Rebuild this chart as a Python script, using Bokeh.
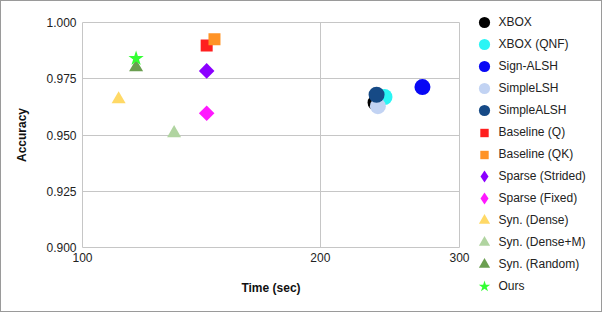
import numpy as np
from bokeh.plotting import figure
from bokeh.layouts import row
from bokeh.models import (Range1d, FixedTicker, NumeralTickFormatter,
                          PrintfTickFormatter, Legend, LegendItem)
from bokeh.embed import file_html
from bokeh.resources import INLINE

# ---- data ----
names = ["XBOX", "XBOX (QNF)", "Sign-ALSH", "SimpleLSH", "SimpleALSH",
         "Baseline (Q)", "Baseline (QK)", "Sparse (Strided)", "Sparse (Fixed)",
         "Syn. (Dense)", "Syn. (Dense+M)", "Syn. (Random)", "Ours"]
time_sec = [234.9, 241.1, 269.3, 236.5, 235.6,
            143.6, 146.9, 143.6, 143.6,
            111.1, 130.6, 116.9, 116.9]
accuracy = [0.9644, 0.9669, 0.9713, 0.9628, 0.9679,
            0.9898, 0.9926, 0.9785, 0.9597,
            0.9659, 0.9508, 0.9801, 0.9840]
colors = ["#000000", "#2af5f5", "#0808f5", "#c2d3f3", "#164a86",
          "#ff1f1f", "#ff9326", "#8b00ff", "#ff19ff",
          "#ffd966", "#b0d4a0", "#6a9e50", "#33ff33"]
kinds = ["circle"] * 5 + ["square"] * 2 + ["diamond"] * 2 + ["triangle"] * 3 + ["star"]
x_ticks = [100, 200, 300]
y_ticks = [0.900, 0.925, 0.950, 0.975, 1.000]

FONT = "Liberation Sans"
GRID = "#c6c6c6"
TXT = "#222222"

# ---------------- main plot ----------------
p = figure(width=470, height=310, x_axis_type="log",
           x_range=Range1d(100, 300), y_range=Range1d(0.9, 1.0),
           output_backend="svg", toolbar_location=None,
           min_border_left=81, min_border_right=12,
           min_border_top=21, min_border_bottom=64)
p.background_fill_color = "white"
p.border_fill_color = "white"
p.outline_line_color = GRID
p.outline_line_width = 1

p.xaxis.ticker = FixedTicker(ticks=x_ticks, minor_ticks=[])
p.yaxis.ticker = FixedTicker(ticks=y_ticks, minor_ticks=[])
p.xaxis.formatter = NumeralTickFormatter(format="0")
p.yaxis.formatter = PrintfTickFormatter(format="%.3f")
p.xgrid.ticker = FixedTicker(ticks=[200])
p.ygrid.ticker = FixedTicker(ticks=y_ticks[1:-1])
for g in (p.xgrid, p.ygrid):
    g.grid_line_color = GRID
    g.grid_line_width = 1

for ax in (p.xaxis, p.yaxis):
    ax.axis_line_color = None
    ax.major_tick_line_color = None
    ax.minor_tick_line_color = None
    ax.major_tick_out = 0
    ax.major_tick_in = 0
    ax.major_label_text_font = FONT
    ax.major_label_text_font_size = "12px"
    ax.major_label_text_color = TXT
    ax.axis_label_text_font = FONT
    ax.axis_label_text_font_size = "12px"
    ax.axis_label_text_font_style = "bold"
    ax.axis_label_text_color = "#111111"

p.xaxis.axis_label = "Time (sec)"
p.yaxis.axis_label = "Accuracy"
p.xaxis.major_label_standoff = 5
p.xaxis.axis_label_standoff = 16
p.yaxis.major_label_standoff = 6
p.yaxis.axis_label_standoff = 14

plot_style = {
    "circle": dict(marker="circle", size=16, angle=0.0),
    "square": dict(marker="square", size=12, angle=0.0),
    "diamond": dict(marker="square", size=11, angle=np.pi / 4),
    "triangle": dict(marker="triangle", size=14, angle=0.0),
    "star": dict(marker="star", size=16, angle=0.0),
}
for i in range(len(names)):
    st = plot_style[kinds[i]]
    p.scatter(x=[time_sec[i]], y=[accuracy[i]], marker=st["marker"],
              size=st["size"], angle=st["angle"],
              fill_color=colors[i], line_color=None)

# ---------------- legend panel ----------------
q = figure(width=130, height=310, x_range=Range1d(0, 1), y_range=Range1d(0, 1),
           output_backend="svg", toolbar_location=None,
           x_axis_location=None, y_axis_location=None,
           min_border_left=0, min_border_right=0,
           min_border_top=0, min_border_bottom=0)
q.grid.visible = False
q.outline_line_color = None
q.background_fill_color = "white"
q.border_fill_color = "white"
for fig in (p, q):
    if "frame_align" in fig.properties():
        fig.frame_align = False

# legend glyph: (marker, glyph box height -> glyph size = 0.4 * box)
legend_style = {
    "circle": ("circle", 28),
    "square": ("square", 21),
    "diamond": ("diamond", 30),
    "triangle": ("triangle", 28),
    "star": ("star", 30),
}
for i, name in enumerate(names):
    lmark, gh = legend_style[kinds[i]]
    proxy = q.scatter(x=np.array([np.nan]), y=np.array([np.nan]), marker=lmark,
                      fill_color=colors[i], line_color=None)
    leg = Legend(items=[LegendItem(label=name, renderers=[proxy])],
                 location=(-2.5, 289 - 22 * i - gh / 2),
                 glyph_width=30, glyph_height=gh, label_height=14,
                 padding=0, margin=0, spacing=0, label_standoff=0,
                 border_line_color=None, background_fill_alpha=0,
                 label_text_font=FONT, label_text_font_size="12px",
                 label_text_color=TXT)
    q.add_layout(leg, "center")

layout = row(p, q)
layout.styles = {"border": "1px solid #9a9a9a"}

open("out.html", "w").write(file_html(layout, INLINE))
